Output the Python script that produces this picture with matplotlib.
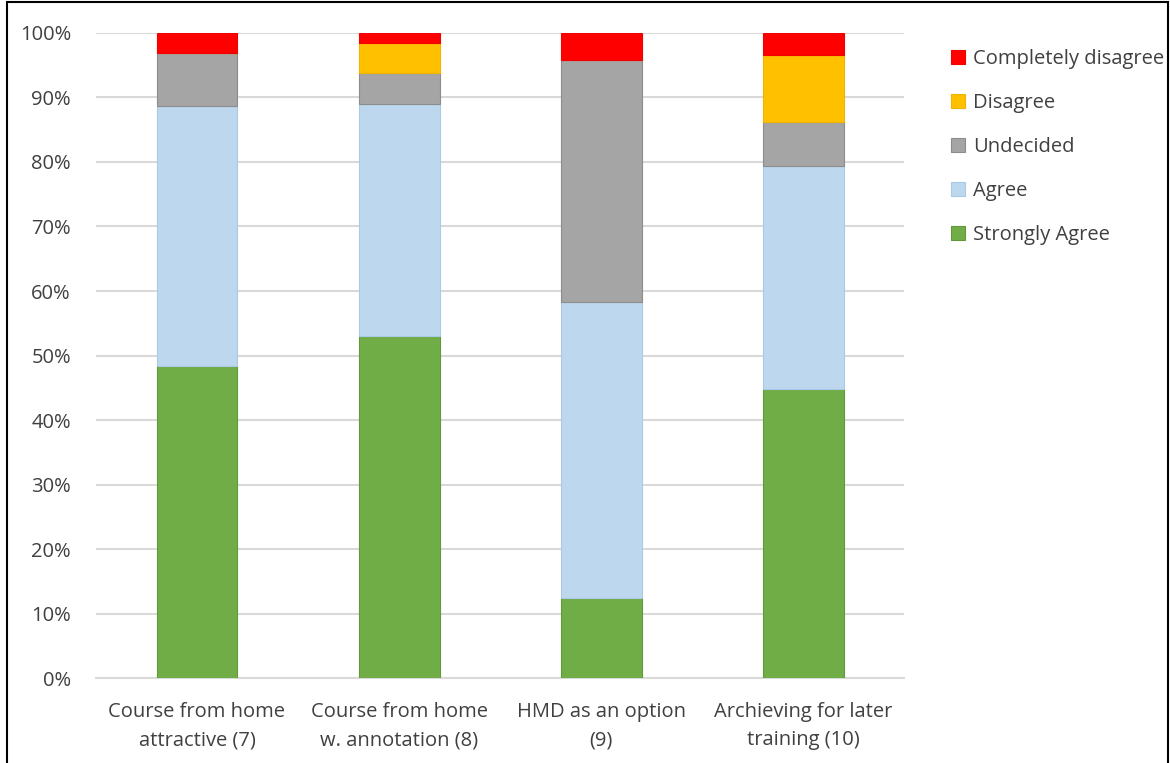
import numpy as np
import matplotlib.pyplot as plt
import matplotlib as mpl
from matplotlib.patches import Rectangle

mpl.rcParams['font.family'] = ['Open Sans', 'DejaVu Sans']

categories = ["Course from home\nattractive (7)", "Course from home\nw. annotation (8)",
              "HMD as an option\n(9)", "Archieving for later\ntraining (10)"]
strongly_agree = [48.4, 53.1, 12.5, 44.8]
agree = [40.3, 35.9, 45.8, 34.5]
undecided = [8.1, 4.7, 37.5, 6.9]
disagree = [0.0, 4.7, 0.0, 10.3]
completely_disagree = [3.2, 1.6, 4.2, 3.5]

series = [("Strongly Agree", strongly_agree, '#70AD47', '#5E9A3A'),
          ("Agree", agree, '#BDD7EE', '#A9C9E6'),
          ("Undecided", undecided, '#A5A5A5', '#8C8C8C'),
          ("Disagree", disagree, '#FFC000', '#F0B400'),
          ("Completely disagree", completely_disagree, '#FF0000', '#F00000')]

fig = plt.figure(figsize=(11.7, 7.63), dpi=100)
ax = fig.add_axes([0.082, 0.111, 0.691, 0.846])

x = np.arange(len(categories))
bottom = np.zeros(len(categories))
handles = []
for name, vals, color, edge in series:
    vals = np.array(vals)
    b = ax.bar(x, vals, 0.4, bottom=bottom, color=color, edgecolor=edge,
               linewidth=0.8, label=name, zorder=3)
    handles.append(b)
    bottom += vals

ax.set_xlim(-0.5, len(categories) - 0.5)
ax.set_ylim(0, 100)
ax.set_yticks(np.arange(0, 101, 10))
ax.set_yticklabels(["{}%".format(v) for v in range(0, 101, 10)])
ax.set_xticks(x)
ax.set_xticklabels(categories, linespacing=1.55)
ax.yaxis.grid(True, color='#D9D9D9', linewidth=1.5, zorder=0)
ax.tick_params(axis='both', length=0, labelsize=14.5, colors='#404040')
ax.tick_params(axis='x', pad=17)
ax.tick_params(axis='y', pad=18)
for s in ['top', 'right', 'left']:
    ax.spines[s].set_visible(False)
ax.spines['bottom'].set_color('#D9D9D9')
ax.spines['bottom'].set_linewidth(1.5)

fig.legend(handles[::-1], [s[0] for s in series][::-1], loc='upper left',
           bbox_to_anchor=(0.797, 0.96), frameon=False, fontsize=14.5,
           labelspacing=1.2, handlelength=0.7, handleheight=0.7,
           handletextpad=0.4, labelcolor='#404040')

fig.patches.append(Rectangle((0.006, -0.01), 0.992, 1.008, transform=fig.transFigure,
                             fill=False, edgecolor='black', linewidth=1.5))

fig.savefig("out.png", dpi=100)
